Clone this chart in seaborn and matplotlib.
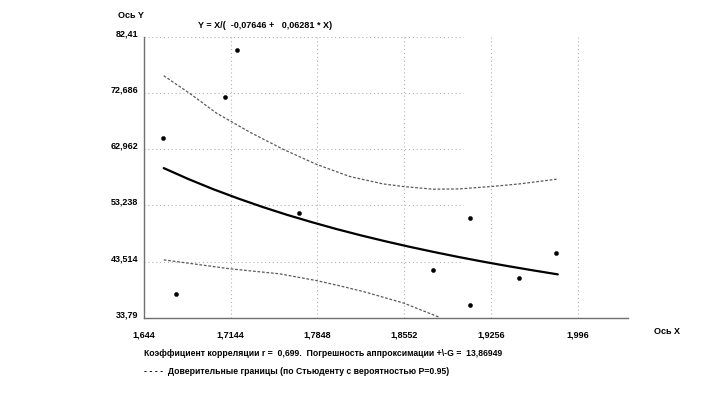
import matplotlib
matplotlib.use("Agg")
import matplotlib.pyplot as plt
import matplotlib.transforms as mtransforms
import seaborn as sns

# ---- data ----
data_x = [1.6597, 1.6701, 1.7094, 1.7195, 1.7700, 1.8789, 1.9087, 1.9087, 1.9487, 1.9783]
data_y = [64.91, 38.02, 72.05, 80.16, 52.01, 42.06, 51.04, 36.12, 40.68, 45.05]

fit_x = [1.66, 1.68, 1.70, 1.72, 1.74, 1.76, 1.78, 1.80, 1.82, 1.84,
         1.86, 1.88, 1.90, 1.92, 1.94, 1.96, 1.98]
fit_y = [59.70, 57.81, 56.07, 54.48, 53.00, 51.63, 50.37, 49.18, 48.08, 47.05,
         46.08, 45.17, 44.31, 43.50, 42.74, 42.02, 41.33]

upper_x = [1.660, 1.681, 1.703, 1.730, 1.757, 1.784, 1.811, 1.838, 1.855,
           1.879, 1.900, 1.925, 1.949, 1.979]
upper_y = [75.67, 72.63, 69.18, 65.90, 62.95, 60.35, 58.25, 56.97, 56.50,
           56.05, 56.10, 56.50, 56.97, 57.78]

lower_x = [1.660, 1.714, 1.754, 1.784, 1.803, 1.822, 1.855, 1.884]
lower_y = [43.84, 42.29, 41.43, 40.26, 39.35, 38.37, 36.36, 33.90]

x_ticks = [1.644, 1.7144, 1.7848, 1.8552, 1.9256, 1.996]
x_labels = ["1,644", "1,7144", "1,7848", "1,8552", "1,9256", "1,996"]
y_ticks = [33.79, 43.514, 53.238, 62.962, 72.686, 82.41]
y_labels = ["33,79", "43,514", "53,238", "62,962", "72,686", "82,41"]

title = "Y = X/(  -0,07646 +   0,06281 * X)"
x_name = "Ось X"
y_name = "Ось Y"
note1 = "Коэффициент корреляции r =  0,699.  Погрешность аппроксимации +\\-G =  13,86949"
note2 = "- - - -  Доверительные границы (по Стьюденту с вероятностью P=0.95)"

# ---- style ----
sns.set_theme(style="white")
plt.rcParams["font.family"] = ["Liberation Sans", "DejaVu Sans"]
FS = 6.5
FS_NOTE = 6.2

W, H = 723, 398
fig = plt.figure(figsize=(W / 100, H / 100), dpi=100)
fig.patch.set_facecolor("white")

left, right, top, bottom = 144, 628, 36.7, 318
ax = fig.add_axes([left / W, 1 - bottom / H, (right - left) / W, (bottom - top) / H])
ax.set_facecolor("white")

x_min, x_max = 1.644, 2.037
ax.set_xlim(x_min, x_max)
ax.set_ylim(y_ticks[0], y_ticks[-1])

grid_col = "#b4b4b4"
grid_x_end = 1.903
ax.hlines(y_ticks[1:], x_min, grid_x_end, colors=grid_col, linestyles=(0, (1, 2.5)), linewidth=0.8, zorder=1)
ax.vlines(x_ticks[1:], y_ticks[0], y_ticks[-1], colors=grid_col, linestyles=(0, (1, 2.5)), linewidth=0.8, zorder=1)

band_col = "#5a5a5a"
sns.lineplot(x=upper_x, y=upper_y, ax=ax, color=band_col, linewidth=0.9,
             linestyle=(0, (2.2, 1.4)), estimator=None, sort=False, zorder=2)
sns.lineplot(x=lower_x, y=lower_y, ax=ax, color=band_col, linewidth=0.9,
             linestyle=(0, (2.2, 1.4)), estimator=None, sort=False, zorder=2)
sns.lineplot(x=fit_x, y=fit_y, ax=ax, color="black", linewidth=1.6,
             estimator=None, sort=False, zorder=3)
sns.scatterplot(x=data_x, y=data_y, ax=ax, color="black", s=9, marker="o",
                edgecolor="black", linewidth=0.3, zorder=4)

for s in ["top", "right"]:
    ax.spines[s].set_visible(False)
for s in ["left", "bottom"]:
    ax.spines[s].set_color("#707070")
    ax.spines[s].set_linewidth(1.0)

ax.set_xticks(x_ticks)
ax.set_xticklabels(x_labels, fontsize=FS, fontweight="bold")
ax.set_yticks(y_ticks)
ax.set_yticklabels(y_labels, fontsize=FS, fontweight="bold")
ax.tick_params(axis="both", length=0, colors="black")
ax.tick_params(axis="x", pad=9)
ax.tick_params(axis="y", pad=4)
shift_up = mtransforms.ScaledTranslation(0, 3 / 100, fig.dpi_scale_trans)
for lbl in ax.get_yticklabels():
    lbl.set_verticalalignment("center")
    lbl.set_transform(lbl.get_transform() + shift_up)
ax.set_xlabel("")
ax.set_ylabel("")

def ftext(px, py, s, ha="left", va="center", fs=FS):
    fig.text(px / W, 1 - py / H, s, ha=ha, va=va, fontsize=fs, fontweight="bold", color="black")

ftext(131, 16, y_name, ha="center")
ftext(265, 25, title, ha="center")
ftext(667, 332, x_name, ha="center")
ftext(144, 353, note1, fs=FS_NOTE)
ftext(144, 371, note2, fs=FS_NOTE)

fig.savefig("out.png", dpi=100, facecolor="white")
